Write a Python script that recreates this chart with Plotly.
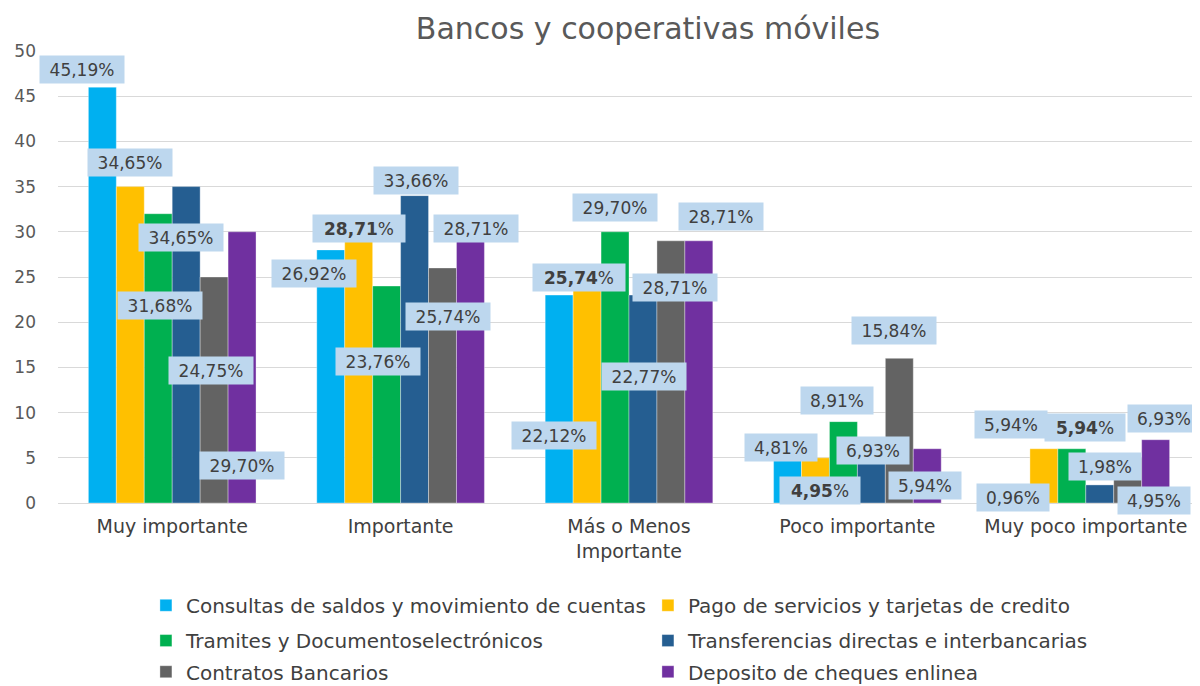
import plotly.graph_objects as go

categories = ["Muy importante", "Importante", "Más o Menos<br>Importante",
              "Poco importante", "Muy poco importante"]

series_names = [
    "Consultas de saldos y movimiento de cuentas",
    "Pago de servicios y tarjetas de credito",
    "Tramites y Documentoselectrónicos",
    "Transferencias directas e interbancarias",
    "Contratos Bancarios",
    "Deposito de cheques enlinea",
]

# bar heights as drawn
consultas = [46, 28, 23, 5, 1]
pago = [35, 29, 26, 5, 6]
tramites = [32, 24, 30, 9, 6]
transferencias = [35, 34, 23, 7, 2]
contratos = [25, 26, 29, 16, 5]
deposito = [30, 29, 29, 6, 7]
values = [consultas, pago, tramites, transferencias, contratos, deposito]

# data labels as printed
lbl_consultas = ["45,19%", "26,92%", "22,12%", "4,81%", "0,96%"]
lbl_pago = ["34,65%", "28,71%", "25,74%", "4,95%", "5,94%"]
lbl_tramites = ["31,68%", "23,76%", "29,70%", "8,91%", "5,94%"]
lbl_transferencias = ["34,65%", "33,66%", "22,77%", "6,93%", "1,98%"]
lbl_contratos = ["24,75%", "25,74%", "28,71%", "15,84%", "4,95%"]
lbl_deposito = ["29,70%", "28,71%", "28,71%", "5,94%", "6,93%"]
labels = [lbl_consultas, lbl_pago, lbl_tramites, lbl_transferencias, lbl_contratos, lbl_deposito]

# bold labels (series index, category index)
bold_labels = {(1, 1), (1, 2), (1, 3), (2, 4)}

colors = ["#00B0F0", "#FFC000", "#00B050", "#255E91", "#636363", "#7030A0"]

# label placement (Excel-style manual positions): x shift in px from category centre, y in axis units
label_dx = [
    [-90, -87, -75, -76, -73],
    [-42, -42, -50, -37, -75],
    [-12, -23, -14, -20, -1],
    [9, 15, 15, 16, 19],
    [39, 47, 46, 37, 68],
    [70, 75, 92, 68, 78],
]
label_y = [
    [47.9, 25.4, 7.5, 6.1, 0.6],
    [37.7, 30.4, 25.0, 1.4, 8.7],
    [21.9, 15.6, 32.7, 11.3, 8.3],
    [29.4, 35.7, 14.0, 5.8, 4.0],
    [14.7, 20.6, 23.8, 19.1, 0.3],
    [4.1, 30.4, 31.7, 1.9, 9.3],
]

legend_ids = ["legend", "legend", "legend2", "legend2", "legend3", "legend3"]

fig = go.Figure()
for i, name in enumerate(series_names):
    fig.add_trace(go.Bar(
        x=categories, y=values[i], name=name,
        marker=dict(color=colors[i], line=dict(color="rgba(255,255,255,0.35)", width=1)),
        legend=legend_ids[i],
        hoverinfo="skip",
    ))

annotations = []
for i in range(len(series_names)):
    for j, cat in enumerate(categories):
        t = labels[i][j]
        bold = (i, j) in bold_labels
        if bold:
            txt = "<b>" + t[:-1] + "</b>%"
        else:
            txt = t
        w = (70 if len(t) == 5 else 82) + (8 if bold else 0)
        annotations.append(dict(
            x=cat, y=label_y[i][j], xref="x", yref="y", xshift=label_dx[i][j],
            text=txt, showarrow=False, bgcolor="#BDD7EE",
            width=w, height=25, borderpad=1,
            font=dict(family="DejaVu Sans", size=17, color="#404040"),
        ))

legend_common = dict(
    orientation="h", x=0.077, xanchor="left", yanchor="top",
    entrywidth=457, entrywidthmode="pixels", itemwidth=30,
    font=dict(family="DejaVu Sans", size=20, color="#404040"),
    bgcolor="rgba(0,0,0,0)", traceorder="normal",
)

fig.update_layout(
    width=1192, height=678,
    margin=dict(l=50, r=0, t=43, b=183, autoexpand=False),
    paper_bgcolor="white", plot_bgcolor="white",
    barmode="group", bargap=0.266, bargroupgap=0,
    title=dict(text="Bancos y cooperativas móviles", xref="paper", x=0.5166, xanchor="center",
               y=0.9705, yanchor="middle",
               font=dict(family="DejaVu Sans", size=30, color="#595959")),
    xaxis=dict(type="category", range=[-0.5, 4.5], autorange=False,
               showgrid=False, showline=False, ticks="",
               automargin=False,
               tickfont=dict(family="DejaVu Sans", size=19, color="#404040"),
               ticklabelstandoff=10),
    yaxis=dict(range=[0, 50], autorange=False, dtick=5, showgrid=True, gridcolor="#D9D9D9",
               zeroline=True, zerolinecolor="#D9D9D9", zerolinewidth=1,
               showline=False, ticks="", automargin=False,
               tickfont=dict(family="DejaVu Sans", size=17, color="#595959"),
               ticklabelstandoff=21),
    legend=dict(legend_common, y=-0.1832),
    legend2=dict(legend_common, y=-0.2612),
    legend3=dict(legend_common, y=-0.3301),
    annotations=annotations,
    showlegend=True,
)

fig.write_html("out.html")
